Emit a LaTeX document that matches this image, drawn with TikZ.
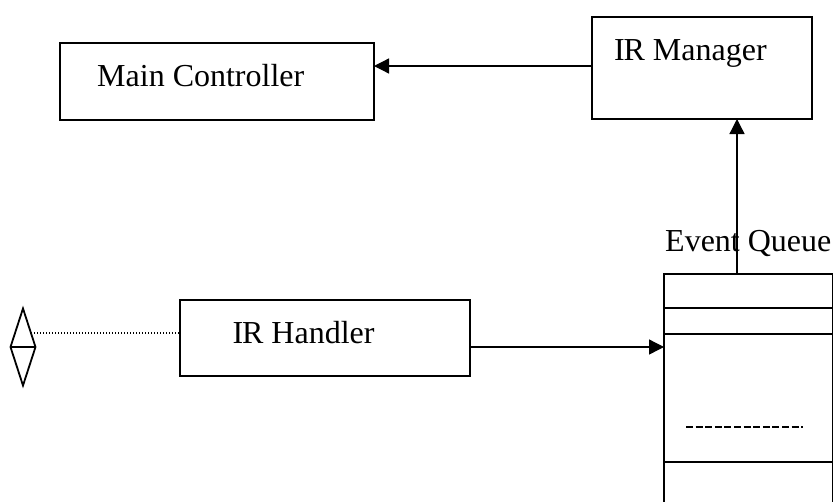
\documentclass[tikz,border=0pt]{standalone}
\usepackage{fontspec}
\setmainfont{Liberation Serif}
\usetikzlibrary{shapes.geometric,arrows.meta}
\tikzset{
  box/.style={draw=black,line width=1.6pt,inner sep=0pt,outer sep=0pt,minimum width=#1,anchor=north west},
  lbl/.style={font=\fontsize{32}{34}\selectfont,inner sep=0pt,anchor=base west,text=black},
  conn/.style={draw=black,line width=1.3pt,-{Triangle[length=15pt,width=15pt]}},
  rule/.style={draw=black,line width=1.4pt},
}
\begin{document}
\begin{tikzpicture}[x=1pt,y=-1pt]
\useasboundingbox (0,0) rectangle (834,501);
\fill[white] (0,0) rectangle (834,501);
\begin{scope}
\clip (0,0) rectangle (834,501);
\node[box=314pt,minimum height=77pt] (main) at (60,43) {};
\node[box=220pt,minimum height=102pt] (mgr) at (592,17) {};
\node[box=290pt,minimum height=76pt] (hdl) at (180,300) {};
\node[box=168.5pt,minimum height=240pt] (queue) at (664,274) {};
\node[draw=black,line width=1.8pt,shape=diamond,aspect=0.32,inner sep=0pt,outer sep=0pt,minimum width=25pt,minimum height=77pt] (dia) at (23,347) {};
\end{scope}
\draw[rule,line width=1.8pt] (dia.west) -- (dia.east);
\draw[black,line width=1.3pt,dash pattern=on 1.3pt off 1.7pt] (dia.60) -- (dia.60 -| hdl.west);
\coordinate (q1a) at (664,308); \coordinate (q1b) at (833,308);
\coordinate (q2a) at (664,334); \coordinate (q2b) at (833,334);
\coordinate (q3a) at (664,462); \coordinate (q3b) at (833,462);
\coordinate (da) at (686,427); \coordinate (db) at (803,427);
\draw[rule] (q1a) -- (q1b);
\draw[rule,line width=1.6pt] (q2a) -- (q2b);
\draw[rule] (q3a) -- (q3b);
\draw[black,line width=1.3pt,dash pattern=on 7pt off 2.6pt] (da) -- (db);
\draw[conn] (mgr.west |- 0,66) -- (main.east |- 0,66);
\draw[conn] (queue.north -| 737,0) -- (mgr.south -| 737,0);
\draw[conn] (hdl.east |- 0,347) -- (queue.west |- 0,347);
\node[lbl] (t1) at (97,86) {Main Controller};
\node[lbl] (t2) at (614,60) {I\kern-1.2pt R Manager};
\node[lbl] (t3) at (232.5,343) {I\kern-1.2pt R Handler};
\node[lbl] (t4) at (665,251) {Event Queue};
\end{tikzpicture}
\end{document}
